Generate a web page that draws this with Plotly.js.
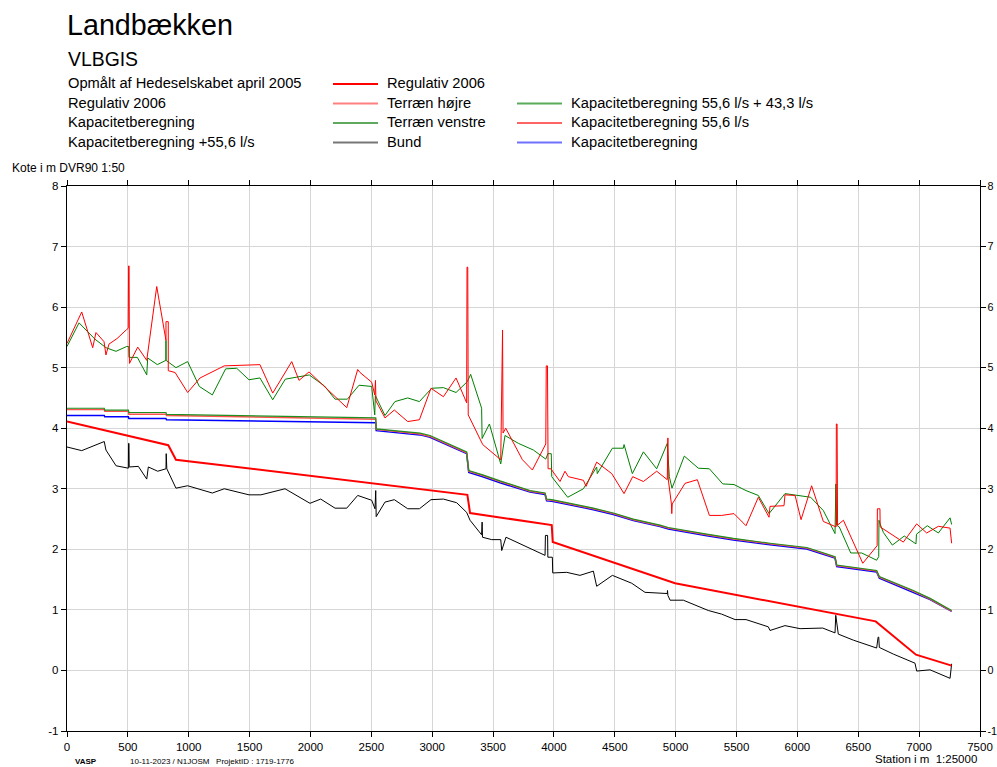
<!DOCTYPE html>
<html>
<head>
<meta charset="utf-8">
<script src="https://cdn.plot.ly/plotly-3.0.1.min.js"></script>
<style>html,body{margin:0;padding:0;background:#fff;}#chart{width:997px;height:767px;}</style>
</head>
<body>
<div id="chart"></div>
<script>
// ---- Data ----
const kapX = [0,306,310,504,508,813,817,2536,2540,2900,2982,3283,3300,3415,3557,3804,3927,3940,3982,4324,4488,4652,4871,4940,5255,5474,5775,6077,6186,6309,6323,6487,6651,6673,6816,6952,7090,7267];
const kapGreen = [4.33,4.33,4.30,4.30,4.26,4.26,4.23,4.17,3.99,3.92,3.88,3.61,3.30,3.23,3.13,2.97,2.93,2.83,2.82,2.68,2.60,2.50,2.40,2.36,2.25,2.18,2.10,2.03,1.96,1.88,1.74,1.70,1.65,1.55,1.43,1.32,1.19,0.99];
const kapRed = [4.31,4.31,4.28,4.28,4.23,4.23,4.21,4.15,3.98,3.905,3.865,3.595,3.29,3.22,3.12,2.96,2.92,2.82,2.81,2.67,2.59,2.49,2.39,2.35,2.24,2.17,2.09,2.02,1.95,1.87,1.73,1.69,1.64,1.54,1.42,1.31,1.18,0.98];
const kapBlue = [4.21,4.21,4.19,4.19,4.16,4.16,4.14,4.09,3.96,3.89,3.85,3.58,3.27,3.20,3.10,2.945,2.905,2.80,2.795,2.655,2.575,2.475,2.375,2.335,2.225,2.155,2.075,2.005,1.935,1.855,1.715,1.675,1.625,1.525,1.405,1.295,1.17,0.975];

const terrHoejreX = [0,121,211,238,304,320,345,411,490,503,506,510,513,581,655,737,813,813,832,832,888,991,1093,1292,1585,1690,1846,1906,1988,2133,2298,2388,2407,2503,2528,2534,2538,2612,2689,2799,2895,2990,3092,3196,3283,3286,3292,3296,3415,3563,3572,3578,3582,3604,3741,3823,3933,3937,3947,3952,3975,4050,4091,4118,4242,4264,4351,4475,4576,4647,4735,4844,4931,4933,4936,4939,4965,4968,4972,5077,5178,5277,5378,5479,5578,5679,5767,5775,5890,5898,5981,6030,6117,6213,6309,6318,6320,6326,6330,6378,6537,6655,6657,6678,6680,6870,6980,7062,7158,7254,7267];
const terrHoejreY = [5.40,5.92,5.33,5.58,5.43,5.21,5.39,5.48,5.63,5.65,6.68,6.68,5.07,5.34,5.12,6.34,5.45,5.76,5.76,4.95,4.92,4.59,4.83,5.03,5.05,4.58,5.10,4.79,4.93,4.66,4.34,4.97,4.92,4.76,4.55,4.79,4.45,4.17,4.30,4.11,4.14,4.66,4.52,4.83,4.42,6.66,6.66,4.22,3.73,3.48,5.62,5.62,3.92,4.00,3.48,3.31,3.74,5.03,5.03,3.33,3.33,3.12,3.29,3.20,3.14,3.04,3.44,3.25,2.92,3.20,3.12,3.29,3.15,3.84,3.84,3.16,2.75,2.59,2.75,3.09,3.15,2.56,2.56,2.59,2.39,2.86,2.53,2.71,2.72,2.90,2.89,2.49,3.05,2.46,2.37,2.37,4.07,4.07,2.40,2.48,1.77,2.06,2.67,2.67,2.37,2.12,2.42,2.27,2.38,2.35,2.10];

const terrVenstreX = [0,99,230,320,403,490,507,509,578,655,663,742,812,813,814,895,991,1087,1194,1303,1394,1495,1585,1690,1793,1990,2114,2202,2303,2399,2503,2528,2533,2612,2694,2799,2895,2996,3092,3196,3289,3316,3406,3410,3470,3563,3598,3708,3831,3933,3950,3978,3982,4113,4242,4351,4356,4480,4570,4576,4644,4735,4844,4931,4948,4970,5071,5186,5277,5387,5479,5578,5679,5767,5898,6109,6213,6309,6316,6322,6344,6438,6528,6651,6668,6670,6674,6706,6780,6878,6974,6978,7067,7158,7254,7267];
const terrVenstreY = [5.35,5.74,5.47,5.33,5.27,5.35,5.35,5.17,5.17,4.88,5.16,5.05,5.12,5.45,5.12,5.00,5.10,4.69,4.55,4.98,4.99,4.80,4.83,4.47,4.81,4.88,4.70,4.48,4.48,4.71,4.69,4.22,4.54,4.21,4.44,4.50,4.44,4.66,4.67,4.59,4.77,4.89,4.33,3.83,4.07,3.41,3.88,3.75,3.64,3.49,3.58,3.58,3.20,2.86,3.00,3.36,3.25,3.67,3.67,3.73,3.25,3.61,3.33,3.75,3.20,3.01,3.54,3.34,3.33,3.08,3.07,2.97,2.89,2.59,2.92,2.86,2.64,2.26,3.08,2.40,2.37,1.94,1.94,1.82,1.88,2.48,2.45,2.28,2.07,2.22,2.09,2.25,2.39,2.27,2.52,2.41];

const bundX = [0,121,306,320,403,504,506,509,511,586,655,668,745,813,815,820,895,991,1194,1292,1495,1593,1791,1996,2084,2202,2298,2388,2503,2530,2536,2540,2612,2689,2799,2895,2990,3092,3201,3283,3311,3406,3410,3413,3489,3563,3571,3606,3927,3930,3948,3950,3987,3990,4105,4214,4324,4351,4480,4639,4748,4931,4933,4936,4954,5063,5268,5378,5488,5578,5761,5775,5898,6022,6208,6309,6315,6336,6460,6651,6663,6668,6673,6788,6966,6980,7090,7254,7267];
const bundY = [3.69,3.63,3.78,3.64,3.38,3.34,3.75,3.75,3.36,3.37,3.16,3.36,3.29,3.33,3.58,3.33,3.01,3.05,2.93,3.00,2.90,2.90,3.00,2.76,2.83,2.68,2.68,2.89,2.81,2.67,2.97,2.54,2.78,2.82,2.67,2.67,2.82,2.83,2.77,2.61,2.48,2.24,2.45,2.20,2.16,2.16,1.98,2.20,1.90,2.23,2.23,1.87,1.87,1.61,1.62,1.57,1.64,1.39,1.57,1.44,1.29,1.27,1.32,1.24,1.16,1.16,0.99,0.93,0.84,0.84,0.72,0.66,0.74,0.69,0.70,0.62,0.91,0.60,0.50,0.37,0.55,0.55,0.38,0.27,0.12,-0.01,0.01,-0.13,0.11];

const regX = [0,832,895,3289,3311,3982,3990,4995,6643,6974,7267];
const regY = [4.11,3.72,3.48,2.90,2.60,2.40,2.12,1.44,0.81,0.26,0.08];

const xTicks = [0,500,1000,1500,2000,2500,3000,3500,4000,4500,5000,5500,6000,6500,7000,7500];
const yTicks = [-1,0,1,2,3,4,5,6,7,8];

const infoLines = ["Opmålt af Hedeselskabet april 2005","Regulativ 2006","Kapacitetberegning","Kapacitetberegning +55,6 l/s"];
const legendCol1 = [
  {name:"Regulativ 2006", color:"#ff0000", width:2},
  {name:"Terræn højre", color:"#ff8080", width:2},
  {name:"Terræn venstre", color:"#2a8c2a", width:1.5},
  {name:"Bund", color:"#777777", width:2}
];
const legendCol2 = [
  {name:"Kapacitetberegning 55,6 l/s + 43,3 l/s", color:"#5aab5a", width:2},
  {name:"Kapacitetberegning 55,6 l/s", color:"#ff3030", width:1.5},
  {name:"Kapacitetberegning", color:"#7070ff", width:2}
];

// ---- Layout helpers (pixel -> paper) ----
const L = 67, R = 980, T = 186, B = 731;
const px = p => (p - L) / (R - L);
const py = p => (B - p) / (B - T);
const FONT = 'Arial, "Liberation Sans", sans-serif';

const traces = [
  {x:kapX, y:kapBlue, mode:'lines', line:{color:'#0000ff', width:1.5}, name:'Kapacitetberegning'},
  {x:kapX, y:kapRed, mode:'lines', line:{color:'rgb(255,80,80)', width:1.5}, name:'Kapacitetberegning 55,6 l/s'},
  {x:kapX, y:kapGreen, mode:'lines', line:{color:'#1f8f1f', width:1.2}, name:'Kapacitetberegning 55,6 l/s + 43,3 l/s'},
  {x:terrVenstreX, y:terrVenstreY, mode:'lines', line:{color:'#008000', width:1}, name:'Terræn venstre'},
  {x:terrHoejreX, y:terrHoejreY, mode:'lines', line:{color:'#ff0000', width:1}, name:'Terræn højre'},
  {x:bundX, y:bundY, mode:'lines', line:{color:'#000000', width:1}, name:'Bund'},
  {x:regX, y:regY, mode:'lines', line:{color:'#ff0000', width:2}, name:'Regulativ 2006', yaxis:'y2'}
];

const annotations = [];
const shapes = [];
function txt(text, xp, yp, size, xanchor, extra) {
  annotations.push(Object.assign({text:text, x:px(xp), y:py(yp), xref:'paper', yref:'paper',
    xanchor:xanchor||'left', yanchor:'middle', showarrow:false,
    font:{family:FONT, size:size, color:'#000'}}, extra||{}));
}
txt('Landbækken', 65, 25, 28.7);
txt('VLBGIS', 66, 59.5, 19.4);
const rowY = [83.5, 103, 122.5, 142];
infoLines.forEach((t,i)=>txt(t, 66, rowY[i], 14.7));
legendCol1.forEach((e,i)=>{
  shapes.push({type:'line', xref:'paper', yref:'paper', x0:px(333), x1:px(378), y0:py(rowY[i]+0.5), y1:py(rowY[i]+0.5), line:{color:e.color, width:e.width}});
  txt(e.name, 385, rowY[i], 14.7);
});
legendCol2.forEach((e,i)=>{
  shapes.push({type:'line', xref:'paper', yref:'paper', x0:px(517), x1:px(562), y0:py(rowY[i+1]+0.5), y1:py(rowY[i+1]+0.5), line:{color:e.color, width:e.width}});
  txt(e.name, 569, rowY[i+1], 14.7);
});
txt('Kote i m DVR90 1:50', 10, 168, 12);
txt('Station i m  1:25000', 979, 759, 11.5, 'right');
annotations.push({text:'<b>VASP</b>', x:px(73), y:py(761), xref:'paper', yref:'paper', xanchor:'left', yanchor:'middle', showarrow:false, font:{family:FONT, size:8, color:'#000'}});
txt('10-11-2023 / N1JOSM   ProjektID : 1719-1776', 128, 761, 8);

const axisCommon = {
  showline:true, linecolor:'#000', linewidth:1.3,
  ticks:'outside', ticklen:5, tickcolor:'#000', tickwidth:1,
  showgrid:true, gridcolor:'#d6d6d6', gridwidth:1,
  zeroline:false, tickfont:{family:FONT, size:11.5, color:'#000'}
};

const layout = {
  width:997, height:767,
  margin:{l:L, r:997-R, t:T, b:767-B, pad:0},
  paper_bgcolor:'#fff', plot_bgcolor:'#fff',
  showlegend:false,
  xaxis:Object.assign({}, axisCommon, {range:[0,7500], tickvals:xTicks, ticktext:xTicks.map(String), mirror:'ticks'}),
  yaxis:Object.assign({}, axisCommon, {range:[-1,8], tickvals:yTicks, ticktext:yTicks.map(String)}),
  yaxis2:Object.assign({}, axisCommon, {range:[-1,8], tickvals:yTicks, ticktext:yTicks.map(String), overlaying:'y', side:'right', showgrid:false, tickfont:{family:FONT, size:10.8, color:'#000'}, ticklabelstandoff:-1}),
  annotations:annotations,
  shapes:shapes,
  hovermode:false
};

Plotly.newPlot('chart', traces, layout, {displayModeBar:false, staticPlot:true});
</script>
</body>
</html>
